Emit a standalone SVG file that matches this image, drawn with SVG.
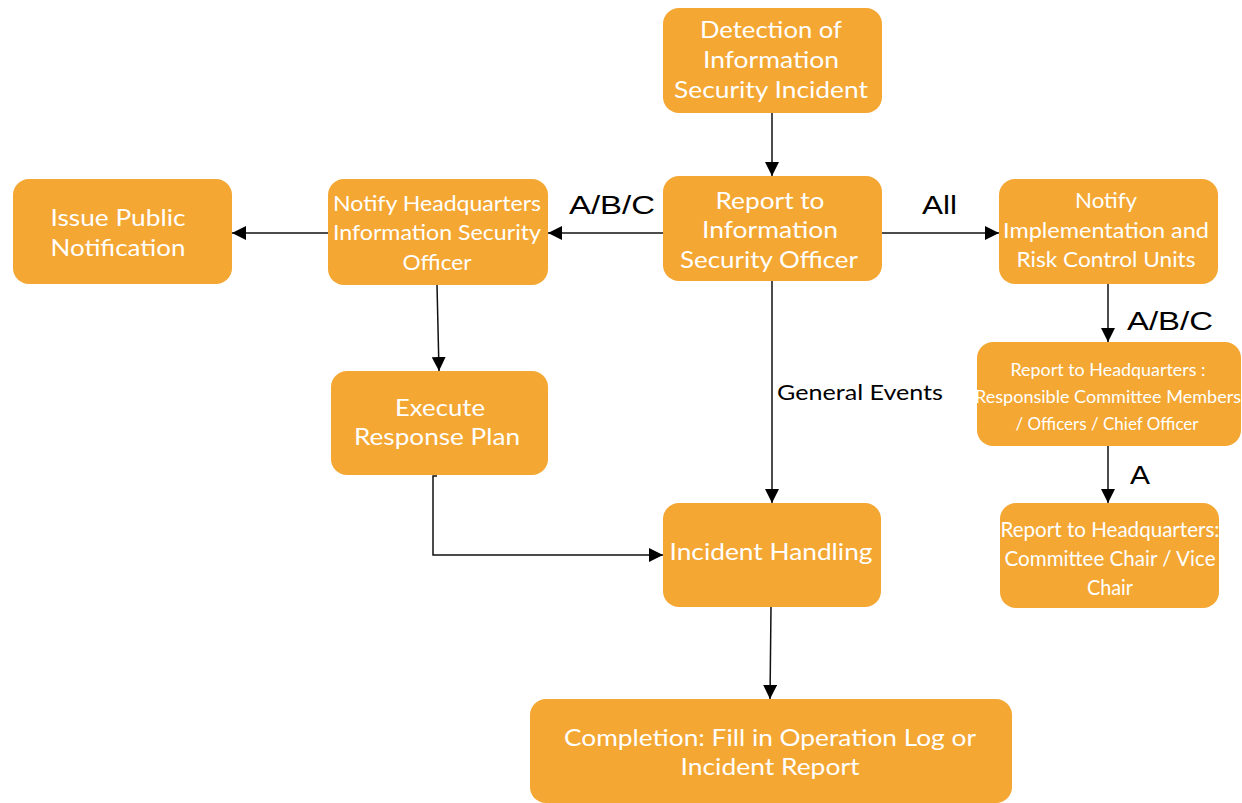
<svg xmlns="http://www.w3.org/2000/svg" width="1242" height="803" viewBox="0 0 1242 803">
  <style>
    .box { fill: #F4A732; }
    .t { fill: #FFFFFF; font-family: Lato, "Open Sans", sans-serif; text-anchor: middle; }
    .t24 { font-size: 24px; }
    .t21 { font-size: 21px; }
    .t18 { font-size: 18px; }
    .edge { fill: none; stroke: #111111; stroke-width: 1.5; marker-end: url(#arrow); }
    .lbl { fill: #000000; font-family: "Liberation Sans", Arial, sans-serif; font-size: 25px; }
    .lbl2 { fill: #000000; font-family: Lato, "Open Sans", sans-serif; font-size: 22px; }
  </style>
  <defs>
    <marker id="arrow" markerUnits="userSpaceOnUse" markerWidth="15" markerHeight="14" refX="14" refY="7" orient="auto">
      <path d="M0,0 L14,7 L0,14 Z" fill="#000000"/>
    </marker>
  </defs>
  <rect width="1242" height="803" fill="#FFFFFF"/>

  <g id="connectors">
    <path class="edge" d="M772,113 V176"/>
    <path class="edge" d="M663,233 H548"/>
    <path class="edge" d="M882,233 H999"/>
    <path class="edge" d="M328,233 H232"/>
    <path class="edge" d="M437,285 L439,371"/>
    <path class="edge" d="M772,281 V503"/>
    <path class="edge" d="M437,476 H433 V555 H663"/>
    <path class="edge" d="M771,607 L770,699"/>
    <path class="edge" d="M1108,284 V342"/>
    <path class="edge" d="M1108,446 V503"/>
    <text class="lbl" x="569" y="214" textLength="86" lengthAdjust="spacingAndGlyphs">A/B/C</text>
    <text class="lbl" x="922" y="214" textLength="35" lengthAdjust="spacingAndGlyphs">All</text>
    <text class="lbl" x="1127" y="330" textLength="86" lengthAdjust="spacingAndGlyphs">A/B/C</text>
    <text class="lbl" x="1130" y="484" textLength="20" lengthAdjust="spacingAndGlyphs">A</text>
    <text class="lbl2" x="777" y="400" textLength="166" lengthAdjust="spacingAndGlyphs">General Events</text>
  </g>

  <g id="detection">
    <rect class="box" x="663" y="8" width="219" height="105" rx="16"/>
    <text class="t t24" x="771" y="38" textLength="142" lengthAdjust="spacingAndGlyphs">Detection of</text>
    <text class="t t24" x="771" y="68" textLength="136" lengthAdjust="spacingAndGlyphs">Information</text>
    <text class="t t24" x="771" y="98" textLength="194" lengthAdjust="spacingAndGlyphs">Security Incident</text>
  </g>

  <g id="report-iso">
    <rect class="box" x="663" y="176" width="219" height="105" rx="16"/>
    <text class="t t24" x="770" y="209" textLength="109" lengthAdjust="spacingAndGlyphs">Report to</text>
    <text class="t t24" x="770" y="238" textLength="136" lengthAdjust="spacingAndGlyphs">Information</text>
    <text class="t t24" x="769" y="268" textLength="178" lengthAdjust="spacingAndGlyphs">Security Officer</text>
  </g>

  <g id="notify-hq-iso">
    <rect class="box" x="328" y="179" width="220" height="106" rx="16"/>
    <text class="t t21" x="437" y="211" textLength="208" lengthAdjust="spacingAndGlyphs">Notify Headquarters</text>
    <text class="t t21" x="437" y="240" textLength="208" lengthAdjust="spacingAndGlyphs">Information Security</text>
    <text class="t t21" x="437" y="270" textLength="69" lengthAdjust="spacingAndGlyphs">Officer</text>
  </g>

  <g id="issue-public">
    <rect class="box" x="13" y="179" width="219" height="105" rx="16"/>
    <text class="t t24" x="118" y="226" textLength="135" lengthAdjust="spacingAndGlyphs">Issue Public</text>
    <text class="t t24" x="118" y="256" textLength="135" lengthAdjust="spacingAndGlyphs">Notification</text>
  </g>

  <g id="notify-units">
    <rect class="box" x="999" y="179" width="219" height="105" rx="16"/>
    <text class="t t21" x="1106" y="208" textLength="62" lengthAdjust="spacingAndGlyphs">Notify</text>
    <text class="t t21" x="1106" y="238" textLength="206" lengthAdjust="spacingAndGlyphs">Implementation and</text>
    <text class="t t21" x="1106" y="267" textLength="179" lengthAdjust="spacingAndGlyphs">Risk Control Units</text>
  </g>

  <g id="report-hq-members">
    <rect class="box" x="977" y="342" width="264" height="104" rx="16"/>
    <text class="t t18" x="1108" y="376" textLength="195" lengthAdjust="spacingAndGlyphs">Report to Headquarters :</text>
    <text class="t t18" x="1108" y="403" textLength="266" lengthAdjust="spacingAndGlyphs">Responsible Committee Members</text>
    <text class="t t18" x="1107" y="430" textLength="183" lengthAdjust="spacingAndGlyphs">/ Officers / Chief Officer</text>
  </g>

  <g id="report-hq-chair">
    <rect class="box" x="1000" y="503" width="219" height="105" rx="16"/>
    <text class="t t21" x="1110" y="537" textLength="219" lengthAdjust="spacingAndGlyphs">Report to Headquarters:</text>
    <text class="t t21" x="1110" y="566" textLength="211" lengthAdjust="spacingAndGlyphs">Committee Chair / Vice</text>
    <text class="t t21" x="1110" y="595" textLength="46" lengthAdjust="spacingAndGlyphs">Chair</text>
  </g>

  <g id="execute-plan">
    <rect class="box" x="331" y="371" width="217" height="104" rx="16"/>
    <text class="t t24" x="440" y="416" textLength="90" lengthAdjust="spacingAndGlyphs">Execute</text>
    <text class="t t24" x="437" y="445" textLength="166" lengthAdjust="spacingAndGlyphs">Response Plan</text>
  </g>

  <g id="incident-handling">
    <rect class="box" x="663" y="503" width="218" height="104" rx="16"/>
    <text class="t t24" x="771" y="560" textLength="203" lengthAdjust="spacingAndGlyphs">Incident Handling</text>
  </g>

  <g id="completion">
    <rect class="box" x="530" y="699" width="482" height="104" rx="16"/>
    <text class="t t24" x="770" y="746" textLength="412" lengthAdjust="spacingAndGlyphs">Completion: Fill in Operation Log or</text>
    <text class="t t24" x="770" y="775" textLength="179" lengthAdjust="spacingAndGlyphs">Incident Report</text>
  </g>
</svg>
